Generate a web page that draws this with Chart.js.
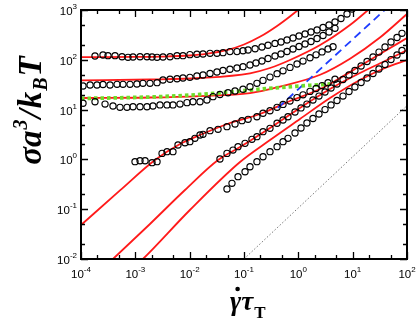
<!DOCTYPE html>
<html>
<head>
<meta charset="utf-8">
<script src="https://cdn.jsdelivr.net/npm/chart.js@4.4.1/dist/chart.umd.min.js"></script>
<style>
  html, body { margin: 0; padding: 0; background: #fff; }
  #wrap { width: 416px; height: 330px; }
</style>
</head>
<body>
<div id="wrap"><canvas id="flowChart" width="416" height="330"></canvas></div>
<script>
// flow curves, shear rate (gamma-dot tau_T) vs stress (sigma a^3 / k_B T)
const rateA = [1.81e-4, 2.54e-4, 3.14e-4, 4.23e-4, 5.69e-4, 7.33e-4, 9.06e-4, 1.22e-3, 1.64e-3, 2.03e-3, 2.51e-3, 3.23e-3, 4.35e-3, 5.85e-3, 7.53e-3, 0.0101, 0.0136, 0.0176, 0.0237, 0.0318, 0.0411, 0.0552, 0.0743, 0.0959, 0.119, 0.160, 0.214, 0.277, 0.372, 0.480, 0.619, 0.798, 1.03, 1.33, 1.71, 2.21, 2.85, 3.67, 4.73, 6.10, 7.87, 9.73];
const stressA = [119, 125, 121, 121, 115, 112, 114, 115, 115, 114, 112, 114, 115, 121, 121, 127, 129, 131, 135, 135, 139, 146, 146, 152, 157, 167, 181, 196, 213, 228, 250, 274, 301, 330, 362, 397, 445, 500, 574, 675, 831, 1047];

const rateB = [1.09e-4, 1.47e-4, 1.97e-4, 2.54e-4, 3.42e-4, 4.61e-4, 5.93e-4, 7.98e-4, 1.07e-3, 1.38e-3, 1.86e-3, 2.51e-3, 3.23e-3, 4.35e-3, 5.85e-3, 7.53e-3, 0.0101, 0.0136, 0.0176, 0.0237, 0.0318, 0.0411, 0.0552, 0.0743, 0.0959, 0.129, 0.166, 0.214, 0.277, 0.372, 0.480, 0.619, 0.798, 1.03, 1.33, 1.71, 2.21, 2.85, 3.67, 4.73];
const stressB = [29.8, 31.2, 31.2, 31.9, 31.2, 32.2, 32.2, 32.2, 32.7, 33.7, 33.7, 34.7, 39.3, 40.6, 41.7, 43.1, 44.5, 47.3, 49.5, 53.1, 56.9, 61.0, 64.5, 68.5, 72.7, 78.6, 86.2, 94.6, 106, 119, 131, 147, 165, 185, 208, 233, 268, 307, 362, 429];

const rateC = [1.09e-4, 1.81e-4, 2.77e-4, 3.88e-4, 5.22e-4, 7.03e-4, 9.06e-4, 1.22e-3, 1.64e-3, 2.11e-3, 2.84e-3, 3.83e-3, 4.93e-3, 6.64e-3, 8.93e-3, 0.0115, 0.0155, 0.0208, 0.0269, 0.0361, 0.0508, 0.0684, 0.0959, 0.129, 0.173, 0.224, 0.301, 0.406, 0.523, 0.703, 0.946, 1.22, 1.64, 2.12, 2.73, 3.52, 4.35];
const stressC = [13.4, 14.4, 12.9, 11.8, 11.1, 11.1, 11.4, 11.4, 11.4, 11.8, 12.4, 12.4, 12.4, 12.9, 13.8, 14.4, 14.4, 15.6, 18.2, 20.1, 21.8, 23.6, 25.6, 28.8, 33.7, 38.6, 45.0, 52.6, 60.1, 70.4, 82.3, 94.2, 110, 126, 144, 165, 183];

const rateD = [9.86e-4, 1.22e-3, 1.51e-3, 2.03e-3, 2.51e-3, 3.10e-3, 3.83e-3, 4.93e-3, 6.10e-3, 8.20e-3, 0.0101, 0.0125, 0.0155, 0.0176, 0.0237, 0.0333, 0.0486, 0.0684, 0.0918, 0.119, 0.173, 0.224, 0.301, 0.406, 0.523, 0.703, 0.946, 1.22, 1.64, 2.12, 2.73, 3.52, 4.73];
const stressD = [0.90, 0.94, 0.94, 0.86, 0.90, 1.32, 1.43, 1.43, 1.95, 2.16, 2.27, 2.65, 3.09, 3.19, 3.77, 4.02, 4.54, 5.14, 5.99, 6.38, 7.20, 8.43, 9.50, 11.1, 12.7, 14.9, 17.4, 19.8, 23.2, 26.5, 30.3, 34.7, 40.6];

const rateE = [0.0361, 0.0486, 0.0628, 0.0776, 0.1045, 0.140, 0.173, 0.224, 0.301, 0.406, 0.523, 0.645, 0.869, 1.12, 1.44, 1.86, 2.40, 3.10, 4.00, 5.15, 6.64, 8.57, 11.0, 14.3, 18.4, 23.7, 30.5, 39.4, 50.8, 65.5, 80.9];
const stressE = [1.02, 1.32, 1.54, 1.80, 2.10, 2.53, 2.86, 3.60, 4.21, 5.31, 6.18, 7.20, 8.95, 10.8, 12.9, 15.6, 18.7, 22.6, 27.1, 32.7, 40.2, 49.5, 61.0, 75.1, 92.5, 114, 143, 181, 228, 280, 340];

const rateF = [0.0486, 0.0601, 0.0776, 0.1045, 0.129, 0.173, 0.224, 0.301, 0.406, 0.523, 0.645, 0.869, 1.12, 1.44, 1.86, 2.40, 3.10, 4.00, 5.15, 6.64, 8.57, 11.0, 14.3, 18.4, 23.7, 30.5, 39.4, 50.8, 65.5, 80.9];
const stressF = [0.255, 0.331, 0.450, 0.566, 0.713, 0.90, 1.13, 1.43, 1.80, 2.27, 2.65, 3.39, 4.27, 5.38, 6.62, 8.16, 10.0, 12.4, 15.2, 18.7, 23.1, 28.4, 35.0, 43.1, 53.1, 65.3, 80.5, 101, 125, 154];

// red fit curves
const fitRate1 = [1e-4, 1e-3, 3e-3, 0.01, 0.02, 0.05, 0.1, 0.2, 0.4, 0.7, 1.0, 1.2];
const fitStress1 = [113, 114, 116, 122, 131, 158, 203, 293, 473, 743, 1013, 1200];
const fitRate2 = [1e-4, 1.86e-3, 0.0155, 0.129, 0.301, 0.703, 2.52, 8.93, 19.2, 25];
const fitStress2 = [38.7, 40.2, 43.1, 53.6, 68.4, 99, 198, 500, 1000, 1300];
const fitRate3 = [1e-4, 1.86e-3, 0.0155, 0.129, 0.46, 2.52, 8.93, 31.8, 100];
const fitStress3 = [17.1, 17.5, 18.7, 21.5, 29, 50, 105, 280, 832];
const fitRate4 = [1e-4, 5.22e-4, 2.30e-3, 6.64e-3, 0.0155, 0.0552, 0.197, 0.703, 2.52, 4.73, 13.6, 39.4, 100];
const fitStress4 = [0.048, 0.238, 0.973, 2.04, 3.09, 5.38, 8.16, 14.9, 25.9, 37.5, 75.2, 150, 274];
const fitRate5 = [3.0e-4, 3.88e-4, 1.86e-3, 8.20e-3, 0.0333, 0.0845, 0.301, 1.07, 3.83, 13.6, 39.4, 100];
const fitStress5 = [0.0077, 0.01, 0.0505, 0.243, 0.973, 1.77, 4.27, 10.8, 25.9, 54.3, 94.6, 157];
const fitRate6 = [1.1e-3, 1.38e-3, 0.0101, 0.0845, 0.301, 1.07, 3.83, 13.6, 39.4, 100];
const fitStress6 = [0.008, 0.01, 0.0964, 0.887, 2.45, 6.47, 17.1, 39.3, 68.4, 99];

// green dotted, blue dashed and grey dotted guide lines
const greenRate = [1e-4, 1.86e-3, 0.0155, 0.0845, 0.46, 3.83];
const greenStress = [16.7, 17.9, 20.1, 23.6, 27.8, 32.7];
const blueRate = [0.42, 45];
const blueStress = [10.8, 1157];
const greyRate = [0.1, 100];
const greyStress = [0.01, 12];

// axis ticks (powers of ten) and minor tick multiples
const xTickExp = [-4, -3, -2, -1, 0, 1, 2];
const yTickExp = [-2, -1, 0, 1, 2, 3];
const minorSteps = [2, 5];

const pts = (xs, ys) => xs.map((v, i) => ({ x: v, y: ys[i] }));

const circles = (xs, ys) => ({
  data: pts(xs, ys),
  showLine: false,
  pointStyle: 'circle',
  pointRadius: 3.1,
  pointBorderWidth: 1.15,
  pointBorderColor: '#000',
  pointBackgroundColor: 'rgba(0,0,0,0)'
});

const redFit = (xs, ys) => ({
  data: pts(xs, ys),
  borderColor: '#ff1a1a',
  borderWidth: 1.8,
  pointRadius: 0,
  cubicInterpolationMode: 'monotone',
  fill: false
});

// frame, inward ticks, tick labels and axis titles
const frameAndLabels = {
  id: 'frameAndLabels',
  afterDatasetsDraw(chart) {
    const { ctx, chartArea: a, scales: { x, y } } = chart;
    ctx.save();
    ctx.strokeStyle = '#000';
    ctx.lineWidth = 1.3;

    const xTick = (v, len) => {
      const px = Math.round(x.getPixelForValue(v)) + 0.5;
      ctx.beginPath();
      ctx.moveTo(px, a.bottom); ctx.lineTo(px, a.bottom - len);
      ctx.moveTo(px, a.top); ctx.lineTo(px, a.top + len);
      ctx.stroke();
    };
    const yTick = (v, len) => {
      const py = Math.round(y.getPixelForValue(v)) + 0.5;
      ctx.beginPath();
      ctx.moveTo(a.left, py); ctx.lineTo(a.left + len, py);
      ctx.moveTo(a.right, py); ctx.lineTo(a.right - len, py);
      ctx.stroke();
    };
    xTickExp.forEach((e, i) => {
      xTick(Math.pow(10, e), 7);
      if (i < xTickExp.length - 1) minorSteps.forEach(m => xTick(m * Math.pow(10, e), 4));
    });
    yTickExp.forEach((e, i) => {
      yTick(Math.pow(10, e), 7);
      if (i < yTickExp.length - 1) minorSteps.forEach(m => yTick(m * Math.pow(10, e), 4));
    });

    ctx.lineWidth = 2;
    ctx.strokeRect(a.left, a.top, a.right - a.left, a.bottom - a.top);

    // tick labels 10^n
    const base = '11.5px "Liberation Sans", Arial, sans-serif';
    const sup = '8px "Liberation Sans", Arial, sans-serif';
    ctx.fillStyle = '#000';
    ctx.textBaseline = 'alphabetic';
    yTickExp.forEach(e => {
      const py = y.getPixelForValue(Math.pow(10, e));
      ctx.font = sup;
      const w = ctx.measureText(String(e)).width;
      ctx.textAlign = 'right';
      ctx.fillText(String(e), 77, py - 1);
      ctx.font = base;
      ctx.fillText('10', 77 - w, py + 5);
    });
    xTickExp.forEach(e => {
      const px = x.getPixelForValue(Math.pow(10, e));
      ctx.font = base;
      const w10 = ctx.measureText('10').width;
      ctx.font = sup;
      const we = ctx.measureText(String(e)).width;
      const start = px - (w10 + we) / 2;
      ctx.textAlign = 'left';
      ctx.font = base;
      ctx.fillText('10', start, 278);
      ctx.font = sup;
      ctx.fillText(String(e), start + w10, 272);
    });

    // y title, rotated
    const big = 'bold italic 33px "Liberation Serif", "Times New Roman", serif';
    const small = 'bold italic 20px "Liberation Serif", "Times New Roman", serif';
    const parts = [
      { t: 'σa', f: big, dy: 0 },
      { t: '3', f: small, dy: -14 },
      { t: '/', f: big, dy: 0 },
      { t: 'k', f: big, dy: 0 },
      { t: 'B', f: small, dy: 6 },
      { t: 'T', f: big, dy: 0 }
    ];
    let total = 0;
    parts.forEach(p => { ctx.font = p.f; p.w = ctx.measureText(p.t).width + 1; total += p.w; });
    ctx.save();
    ctx.translate(41, 110);
    ctx.rotate(-Math.PI / 2);
    ctx.textAlign = 'left';
    let cx = -total / 2;
    parts.forEach(p => { ctx.font = p.f; ctx.fillText(p.t, cx, p.dy); cx += p.w; });
    ctx.restore();

    // x title: gamma-dot tau_T
    const gx = 230, gy = 310;
    ctx.textAlign = 'left';
    ctx.font = 'bold italic 27px "Liberation Serif", "Times New Roman", serif';
    ctx.fillText('γ', gx, gy);
    const gw = ctx.measureText('γ').width;
    ctx.beginPath();
    ctx.arc(gx + gw / 2 + 2, gy - 21, 2.3, 0, Math.PI * 2);
    ctx.fill();
    ctx.fillText('τ', gx + gw, gy);
    const tw = ctx.measureText('τ').width;
    ctx.font = 'bold 17px "Liberation Serif", "Times New Roman", serif';
    ctx.fillText('T', gx + gw + tw + 1, gy + 8);
    ctx.restore();
  }
};

const canvas = document.getElementById('flowChart');
const flowChart = new Chart(canvas.getContext('2d'), {
  type: 'line',
  data: {
    datasets: [
      circles(rateA, stressA),
      circles(rateB, stressB),
      circles(rateC, stressC),
      circles(rateD, stressD),
      circles(rateE, stressE),
      circles(rateF, stressF),
      {
        data: pts(greenRate, greenStress),
        borderColor: '#6fdc2a',
        borderWidth: 3.8,
        borderDash: [3.5, 3],
        pointRadius: 0,
        cubicInterpolationMode: 'monotone'
      },
      {
        data: pts(blueRate, blueStress),
        borderColor: '#1f3dff',
        borderWidth: 1.8,
        borderDash: [8, 5],
        pointRadius: 0
      },
      {
        data: pts(greyRate, greyStress),
        borderColor: '#777',
        borderWidth: 1,
        borderDash: [1.5, 2],
        pointRadius: 0
      },
      redFit(fitRate1, fitStress1),
      redFit(fitRate2, fitStress2),
      redFit(fitRate3, fitStress3),
      redFit(fitRate4, fitStress4),
      redFit(fitRate5, fitStress5),
      redFit(fitRate6, fitStress6)
    ]
  },
  options: {
    responsive: false,
    animation: false,
    devicePixelRatio: 1,
    layout: { padding: { left: 81, right: 9, top: 10, bottom: 71 } },
    plugins: { legend: { display: false }, tooltip: { enabled: false } },
    scales: {
      x: { type: 'logarithmic', min: 1e-4, max: 1e2, display: false },
      y: { type: 'logarithmic', min: 1e-2, max: 1e3, display: false }
    }
  },
  plugins: [frameAndLabels]
});
</script>
</body>
</html>
